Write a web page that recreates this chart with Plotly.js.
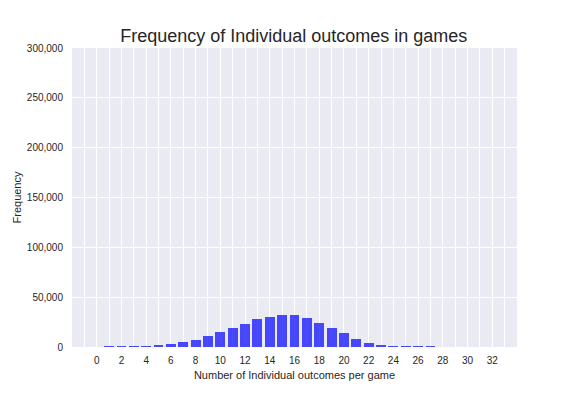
<!DOCTYPE html>
<html>
<head>
<meta charset="utf-8">
<script src="https://cdn.plot.ly/plotly-3.0.1.min.js"></script>
<style>html,body{margin:0;padding:0;background:#fff;}#chart{width:576px;height:396px;}</style>
</head>
<body>
<div id="chart"></div>
<script>
const outcomes = [1,2,3,4,5,6,7,8,9,10,11,12,13,14,15,16,17,18,19,20,21,22,23,24,25,26,27];
const frequency = [900,800,800,900,2000,3000,5000,7000,11000,14700,19000,23000,28000,30500,32000,32000,29000,24000,19000,14000,8000,4000,2000,1000,800,800,700];
const xTickVals = [0,2,4,6,8,10,12,14,16,18,20,22,24,26,28,30,32];
const yTickVals = [0,50000,100000,150000,200000,250000,300000];

const trace = {
  type: 'bar',
  x: outcomes,
  y: frequency,
  width: 0.8,
  marker: {color: 'rgba(0,0,255,0.7)', line: {width: 0}},
  hoverinfo: 'skip'
};

const font = {family: 'Liberation Sans, Arial, sans-serif', color: '#262626'};

const layout = {
  width: 576, height: 396,
  margin: {l: 72, r: 59, t: 48, b: 49},
  paper_bgcolor: '#ffffff',
  plot_bgcolor: '#EAEAF2',
  font: font,
  showlegend: false,
  bargap: 0,
  title: {text: 'Frequency of Individual outcomes in games', x: 0.51, xanchor: 'center', y: 0.91, yanchor: 'middle',
          font: {family: 'Liberation Sans, Arial, sans-serif', size: 18, color: '#262626'}},
  xaxis: {
    range: [-2, 34],
    tickmode: 'array', tickvals: xTickVals,
    showgrid: true, gridcolor: '#ffffff', gridwidth: 1,
    minor: {dtick: 1, tick0: 0, showgrid: true, gridcolor: '#ffffff', gridwidth: 1, ticks: ''},
    zeroline: false, showline: false, ticks: 'outside', ticklen: 4, tickcolor: 'rgba(0,0,0,0)',
    tickfont: {size: 10, color: '#262626'},
    title: {text: 'Number of Individual outcomes per game', font: {size: 11, color: '#262626'}, standoff: 6}
  },
  yaxis: {
    range: [0, 300000],
    tickmode: 'array', tickvals: yTickVals,
    tickformat: ',',
    showgrid: true, gridcolor: '#ffffff', gridwidth: 1,
    zeroline: false, showline: false, ticks: 'outside', ticklen: 6, tickcolor: 'rgba(0,0,0,0)',
    tickfont: {size: 10, color: '#262626'},
    title: {text: 'Frequency', font: {size: 11, color: '#262626'}, standoff: 2}
  }
};

Plotly.newPlot('chart', [trace], layout, {staticPlot: true, displayModeBar: false});
</script>
</body>
</html>
